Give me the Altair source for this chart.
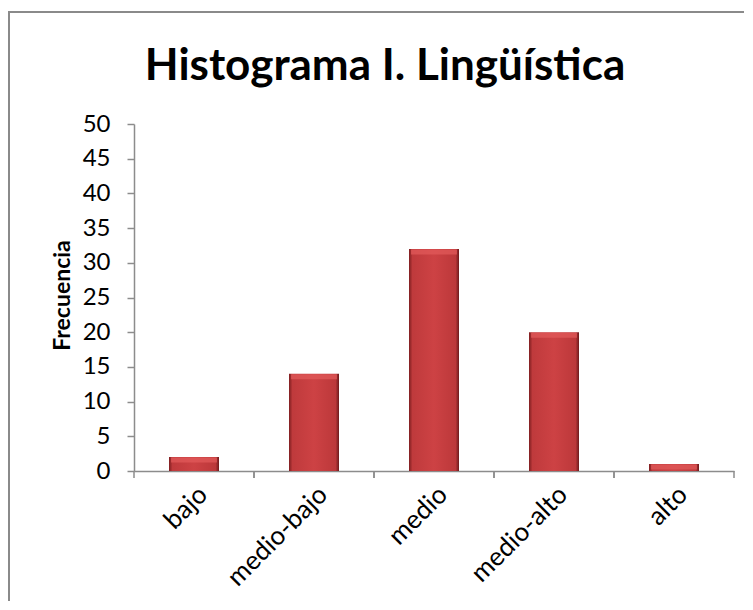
import altair as alt
import pandas as pd

categories = ["bajo", "medio-bajo", "medio", "medio-alto", "alto"]
frecuencia = [2, 14, 32, 20, 1]
y_ticks = [0, 5, 10, 15, 20, 25, 30, 35, 40, 45, 50]
chart_title = "Histograma I. Lingüística"

df = pd.DataFrame({"cat": categories, "f": frecuencia})
FONT = "Lato"

xscale = alt.Scale(domain=categories, paddingInner=0, paddingOuter=0)
yscale = alt.Scale(domain=[0, 50], nice=False)

x_axis = alt.Axis(title=None, labelAngle=-45, labelFont=FONT, labelFontSize=26,
                  labelColor="#000", labelPadding=10, ticks=False,
                  labelOverlap=False, labelBound=False,
                  domainColor="#8c8c8c", domainWidth=1.5)
y_axis = alt.Axis(title="Frecuencia", values=y_ticks, grid=False,
                  labelOverlap=False, labelFlush=False,
                  labelFont=FONT, labelFontSize=24, labelColor="#000",
                  labelPadding=17, tickSize=7, tickColor="#8c8c8c",
                  domainColor="#8c8c8c", domainWidth=1.5, tickWidth=1.5,
                  titleFont=FONT, titleFontSize=23, titleFontWeight="bold",
                  titleColor="#000", titleX=-72, titleY=171,
                  titleAlign="center", titleBaseline="middle", titleAngle=-90)

base = alt.Chart(df)

bar_fill = alt.Gradient(
    gradient="linear", x1=0, x2=1, y1=0, y2=0,
    stops=[
        alt.GradientStop(offset=0, color="#7e1e20"),
        alt.GradientStop(offset=0.07, color="#bf3a3c"),
        alt.GradientStop(offset=0.5, color="#cd4244"),
        alt.GradientStop(offset=0.93, color="#bc383a"),
        alt.GradientStop(offset=1, color="#6e1a1c"),
    ],
)

bars = base.mark_bar(size=50, fill=bar_fill).encode(
    x=alt.X("cat:N", scale=xscale, sort=categories, axis=x_axis),
    y=alt.Y("f:Q", scale=yscale, axis=y_axis),
    y2=alt.datum(0),
)

bevel = base.mark_tick(size=46, thickness=5, color="#e35b5b", yOffset=3).encode(
    x=alt.X("cat:N", scale=xscale, sort=categories, axis=x_axis),
    y=alt.Y("f:Q", scale=yscale, axis=y_axis),
)

ticks_start = base.mark_rule(color="#8c8c8c", strokeWidth=1.5).encode(
    x=alt.X("cat:N", scale=xscale, sort=categories, bandPosition=0, axis=x_axis),
    y=alt.value(347), y2=alt.value(354),
)
ticks_end = base.mark_rule(color="#8c8c8c", strokeWidth=1.5).encode(
    x=alt.X("cat:N", scale=xscale, sort=categories, bandPosition=1, axis=x_axis),
    y=alt.value(347), y2=alt.value(354),
)

one = pd.DataFrame({"t": [chart_title]})
frame = alt.Chart(one).mark_rect(
    filled=False, stroke="#8a8a8a", strokeWidth=2
).encode(x=alt.value(-125), x2=alt.value(700), y=alt.value(-112), y2=alt.value(600))

title_txt = alt.Chart(one).mark_text(
    font=FONT, fontSize=44, fontWeight="bold", color="#000",
    align="center", baseline="alphabetic"
).encode(text="t:N", x=alt.value(251), y=alt.value(-44))

chart = alt.layer(frame, bars, bevel, ticks_start, ticks_end, title_txt).properties(
    width=600, height=347,
    autosize=alt.AutoSizeParams(type="none"),
    padding={"left": 126, "top": 116, "right": 10, "bottom": 130},
).configure_view(stroke=None)

chart.save("out.html", embed_options={"renderer": "svg", "actions": False})
